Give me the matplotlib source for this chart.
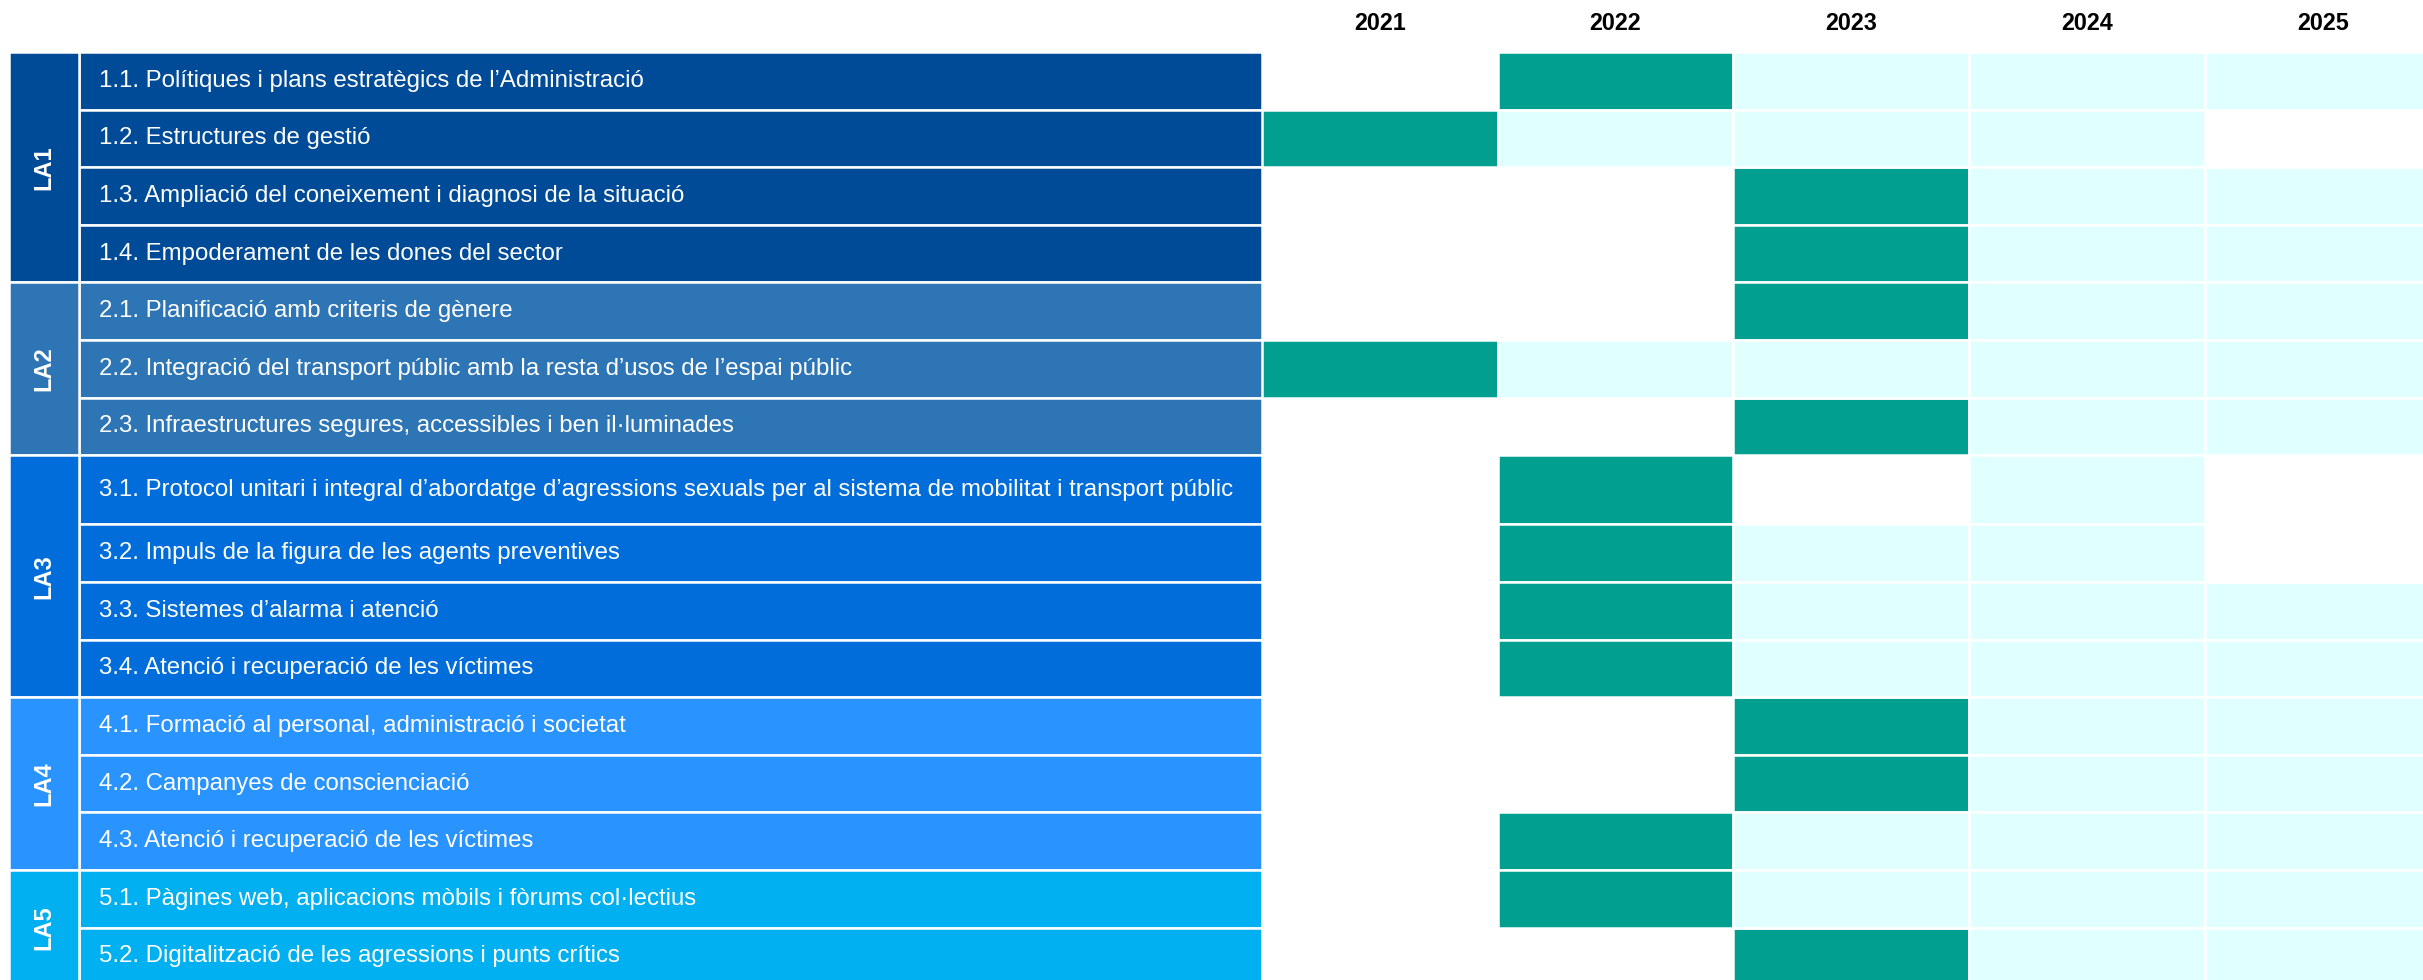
import numpy as np
import matplotlib.pyplot as plt

plt.rcParams['font.family'] = ['Liberation Sans', 'DejaVu Sans']

# Dades del calendari
years = [2021, 2022, 2023, 2024, 2025]
groups = ['LA1', 'LA2', 'LA3', 'LA4', 'LA5']
items = [
    '1.1. Polítiques i plans estratègics de l\u2019Administració',
    '1.2. Estructures de gestió',
    '1.3. Ampliació del coneixement i diagnosi de la situació',
    '1.4. Empoderament de les dones del sector',
    '2.1. Planificació amb criteris de gènere',
    '2.2. Integració del transport públic amb la resta d\u2019usos de l\u2019espai públic',
    '2.3. Infraestructures segures, accessibles i ben il·luminades',
    '3.1. Protocol unitari i integral d\u2019abordatge d\u2019agressions sexuals per al sistema de mobilitat i transport públic',
    '3.2. Impuls de la figura de les agents preventives',
    '3.3. Sistemes d\u2019alarma i atenció',
    '3.4. Atenció i recuperació de les víctimes',
    '4.1. Formació al personal, administració i societat',
    '4.2. Campanyes de conscienciació',
    '4.3. Atenció i recuperació de les víctimes',
    '5.1. Pàgines web, aplicacions mòbils i fòrums col·lectius',
    '5.2. Digitalització de les agressions i punts crítics',
]
item_group = [0, 0, 0, 0, 1, 1, 1, 2, 2, 2, 2, 3, 3, 3, 4, 4]
# 0 = buit, 1 = inici, 2 = continuïtat
status = [
    [0, 1, 2, 2, 2],
    [1, 2, 2, 2, 0],
    [0, 0, 1, 2, 2],
    [0, 0, 1, 2, 2],
    [0, 0, 1, 2, 2],
    [1, 2, 2, 2, 2],
    [0, 0, 1, 2, 2],
    [0, 1, 0, 2, 0],
    [0, 1, 2, 2, 0],
    [0, 1, 2, 2, 2],
    [0, 1, 2, 2, 2],
    [0, 0, 1, 2, 2],
    [0, 0, 1, 2, 2],
    [0, 1, 2, 2, 2],
    [0, 1, 2, 2, 2],
    [0, 0, 1, 2, 2],
]

# Estil i mides
group_colors = ['#004B98', '#2E75B6', '#006DDB', '#2993FF', '#00B0F0']
status_colors = {1: '#009F8F', 2: '#E0FFFF'}
W, H = 2423, 980
top_px = 52          # inici de la taula
row_px = 57.6        # alçada d'una fila
col_px = 235.7       # amplada d'una columna d'any
left_px, split_px = 9, 1262
la_w = 70 / (split_px - left_px)
text_x = 90 / (split_px - left_px)
row_h = np.ones(len(items))
row_h[7] = 1.2
tops = np.concatenate([[0], np.cumsum(row_h)[:-1]])
centers = tops + row_h / 2
y_max = (H - top_px) / row_px
lw = 1.8

fig = plt.figure(figsize=(W / 100, H / 100), dpi=100)
ax_l = fig.add_axes([left_px / W, 0, (split_px - left_px) / W, (H - top_px) / H])
ax_g = fig.add_axes([split_px / W, 0, (W - split_px) / W, (H - top_px) / H])

# Columna d'etiquetes
ax_l.barh(centers, 1 - la_w, left=la_w, height=row_h,
          color=[group_colors[g] for g in item_group], edgecolor='white', linewidth=lw)
for i, txt in enumerate(items):
    ax_l.text(text_x, centers[i], txt, color='white', fontsize=17.3, va='center', ha='left')

for g, name in enumerate(groups):
    idx = [i for i, gg in enumerate(item_group) if gg == g]
    g_top = tops[idx[0]]
    g_h = row_h[idx].sum()
    ax_l.barh(g_top + g_h / 2, la_w, left=0, height=g_h, color=group_colors[g],
              edgecolor='white', linewidth=lw)
    ax_l.text(la_w / 2, g_top + g_h / 2, name, color='white', fontsize=17, fontweight='bold',
              rotation=90, ha='center', va='center')

ax_l.set_xlim(0, 1)
ax_l.set_ylim(y_max, 0)
ax_l.axis('off')

# Graella d'anys
st = np.array(status)
for s, col in status_colors.items():
    r, c = np.nonzero(st == s)
    ax_g.barh(centers[r], 1, left=np.array(years)[c] - 0.5, height=row_h[r],
              color=col, edgecolor='white', linewidth=lw)

ax_g.set_xlim(years[0] - 0.5, years[0] - 0.5 + (W - split_px) / col_px)
ax_g.set_ylim(y_max, 0)
ax_g.set_xticks(years)
ax_g.set_xticklabels([str(y) for y in years], fontweight='bold', fontsize=16.8)
ax_g.xaxis.tick_top()
ax_g.tick_params(axis='x', length=0, pad=12)
ax_g.set_yticks([])
for sp in ax_g.spines.values():
    sp.set_visible(False)

fig.savefig('out.png', dpi=100, facecolor='white')
